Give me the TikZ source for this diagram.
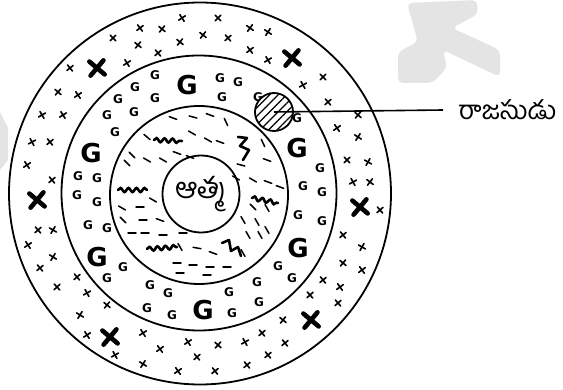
\documentclass[tikz,border=0pt]{standalone}
\usepackage{fontspec}
\usepackage{xcolor}
\usepackage{tikz}
\usetikzlibrary{positioning,patterns.meta,decorations.pathmorphing}
\newfontfamily\telugu[Script=Telugu]{Hind Guntur}
\newfontfamily\glyphs{DejaVu Sans}
\definecolor{markgray}{HTML}{E4E4E4}

\begin{document}
\begin{tikzpicture}[x=1pt,y=-1pt,
  ring/.style={circle,draw,line width=1.8pt,inner sep=0pt},
  smallx/.style={line width=1.6pt,line cap=round},
  bigx/.style={line width=4.6pt,line cap=round},
  dashmark/.style={line width=1.5pt,line cap=round},
  wave/.style={line width=2.6pt,line cap=round,decorate,decoration={snake,amplitude=2pt,segment length=8pt}},
  squiggle/.style={line width=2.6pt,line cap=round,line join=round},
  smallg/.style={font=\glyphs\bfseries\fontsize{12}{12}\selectfont,inner sep=0pt},
  bigg/.style={font=\glyphs\bfseries\fontsize{26}{26}\selectfont,inner sep=0pt}]
\useasboundingbox (0,0) rectangle (563,390);
\fill[markgray,rounded corners=5pt] (407,3) -- (477,0) -- (478,14) -- (452,28) -- (500,50) -- (500,77) -- (443,50) -- (447,68) -- (432,83) -- (398,83) -- (398,52) -- (418,42) -- cycle;
\fill[markgray] (0,112) -- (8,128) -- (8,160) -- (0,170) -- cycle;
\node[ring,minimum size=382pt] (outer) at (200,193.5) {};
\node[ring,minimum size=275pt] (middle) at (199,193) {};
\node[ring,minimum size=178pt] (inner) at (199,195) {};
\node[ring,minimum size=77pt,font=\telugu\fontsize{29}{29}\selectfont] (atma) at (201,194) {ఆత్మ};
\pgfmathsetseed{11}
\foreach \x/\y [count=\i] in {182/18,218/18,140/28,162/29,113/38,203/35,228/38,250/28,268/32,138/45,180/42,158/53,250/50,268/60,70/68,127/63,303/85,323/77,58/92,78/95,328/102,42/115,63/115,358/115,337/128,358/137,32/142,50/142,347/160,368/162,27/165,52/180,353/182,370/182,380/210,38/230,53/230,28/245,343/235,362/247,53/257,40/268,343/263,362/270,77/277,57/287,323/280,340/287,87/293,310/295,338/303,80/315,107/305,283/320,87/335,143/333,188/342,218/345,245/342,262/333,285/343,160/349,197/357,143/364,178/371,215/371,247/365,268/355,115/355}
  {\pgfmathsetmacro\a{45+18*rand}
   \draw[smallx] (\x,\y) ++(\a:4) -- ++(\a+180:8) (\x,\y) ++(\a+90:4) -- ++(\a+270:8);}
\foreach \x/\y [count=\i] in {97/68,292/58,37/200,360/207,311/320,110/337}
  \draw[bigx] (\x,\y) ++(40:10) -- ++(220:20) (\x,\y) ++(130:10) -- ++(310:20);
\foreach \x/\y [count=\i] in {155/75,135/87,118/99,155/98,134/112,107/115,115/132,220/78,238/82,222/97,258/97,297/118,320/168,303/186,322/192,298/215,322/221,78/176,97/178,77/195,97/202,88/225,107/228,123/267,107/278,150/285,168/293,147/308,172/315,232/313,259/302,257/282,229/292,278/266,292/278}
  \node[smallg] (sg\i) at (\x,\y) {G};
\foreach \x/\y [count=\i] in {187/85,91/153,297/148,97/257,203/310,298/248}
  \node[bigg] (bg\i) at (\x,\y) {G};
\foreach \x/\y/\a [count=\i] in {173/118/20,193/117/15,210/115/20,226/122/65,147/137/40,192/133/30,220/142/20,263/143/65,132/155/45,147/160/30,177/153/20,190/157/20,127/163/45,163/160/30,267/160/20,253/180/30,268/182/20,280/187/20,153/200/30,140/207/0,122/208/30,123/220/45,143/220/0,160/220/20,253/207/45,267/208/60,243/220/60,257/222/60,267/230/60,132/233/0,145/233/0,163/235/0,183/233/0,180/247/60,197/248/10,248/235/60,260/235/60,243/253/60,177/263/0,193/265/0,210/267/0,227/267/0,180/273/0,207/275/0,213/253/20,208/140/30,236/178/30,241/165/15}
  \draw[dashmark] (\x,\y) ++(\a+180:4) -- ++(\a:8);
\draw[wave] (154,140) -- (182,141);
\draw[wave] (118,190) -- (147,190);
\draw[wave] (252,198) -- (278,203);
\draw[wave] (147,249) -- (177,247);
\draw[squiggle] (238,137) -- (247,138) -- (240,146) -- (249,150) -- (243,160);
\draw[squiggle] (222,243) -- (229,240) -- (231,251) -- (238,247) -- (241,256);
\node[circle,draw,line width=1.8pt,minimum size=38pt,inner sep=0pt,preaction={fill=white},pattern={Lines[angle=45,distance=6pt,line width=1.2pt]}] (rajas) at (274,112) {};
\node[anchor=west,inner xsep=15pt,inner ysep=0pt,font=\telugu\fontsize{26}{26}\selectfont] (label) at (443,110) {రాజసుడు};
\draw[line width=1.6pt] (rajas.center) -- (label.west);
\end{tikzpicture}
\end{document}
